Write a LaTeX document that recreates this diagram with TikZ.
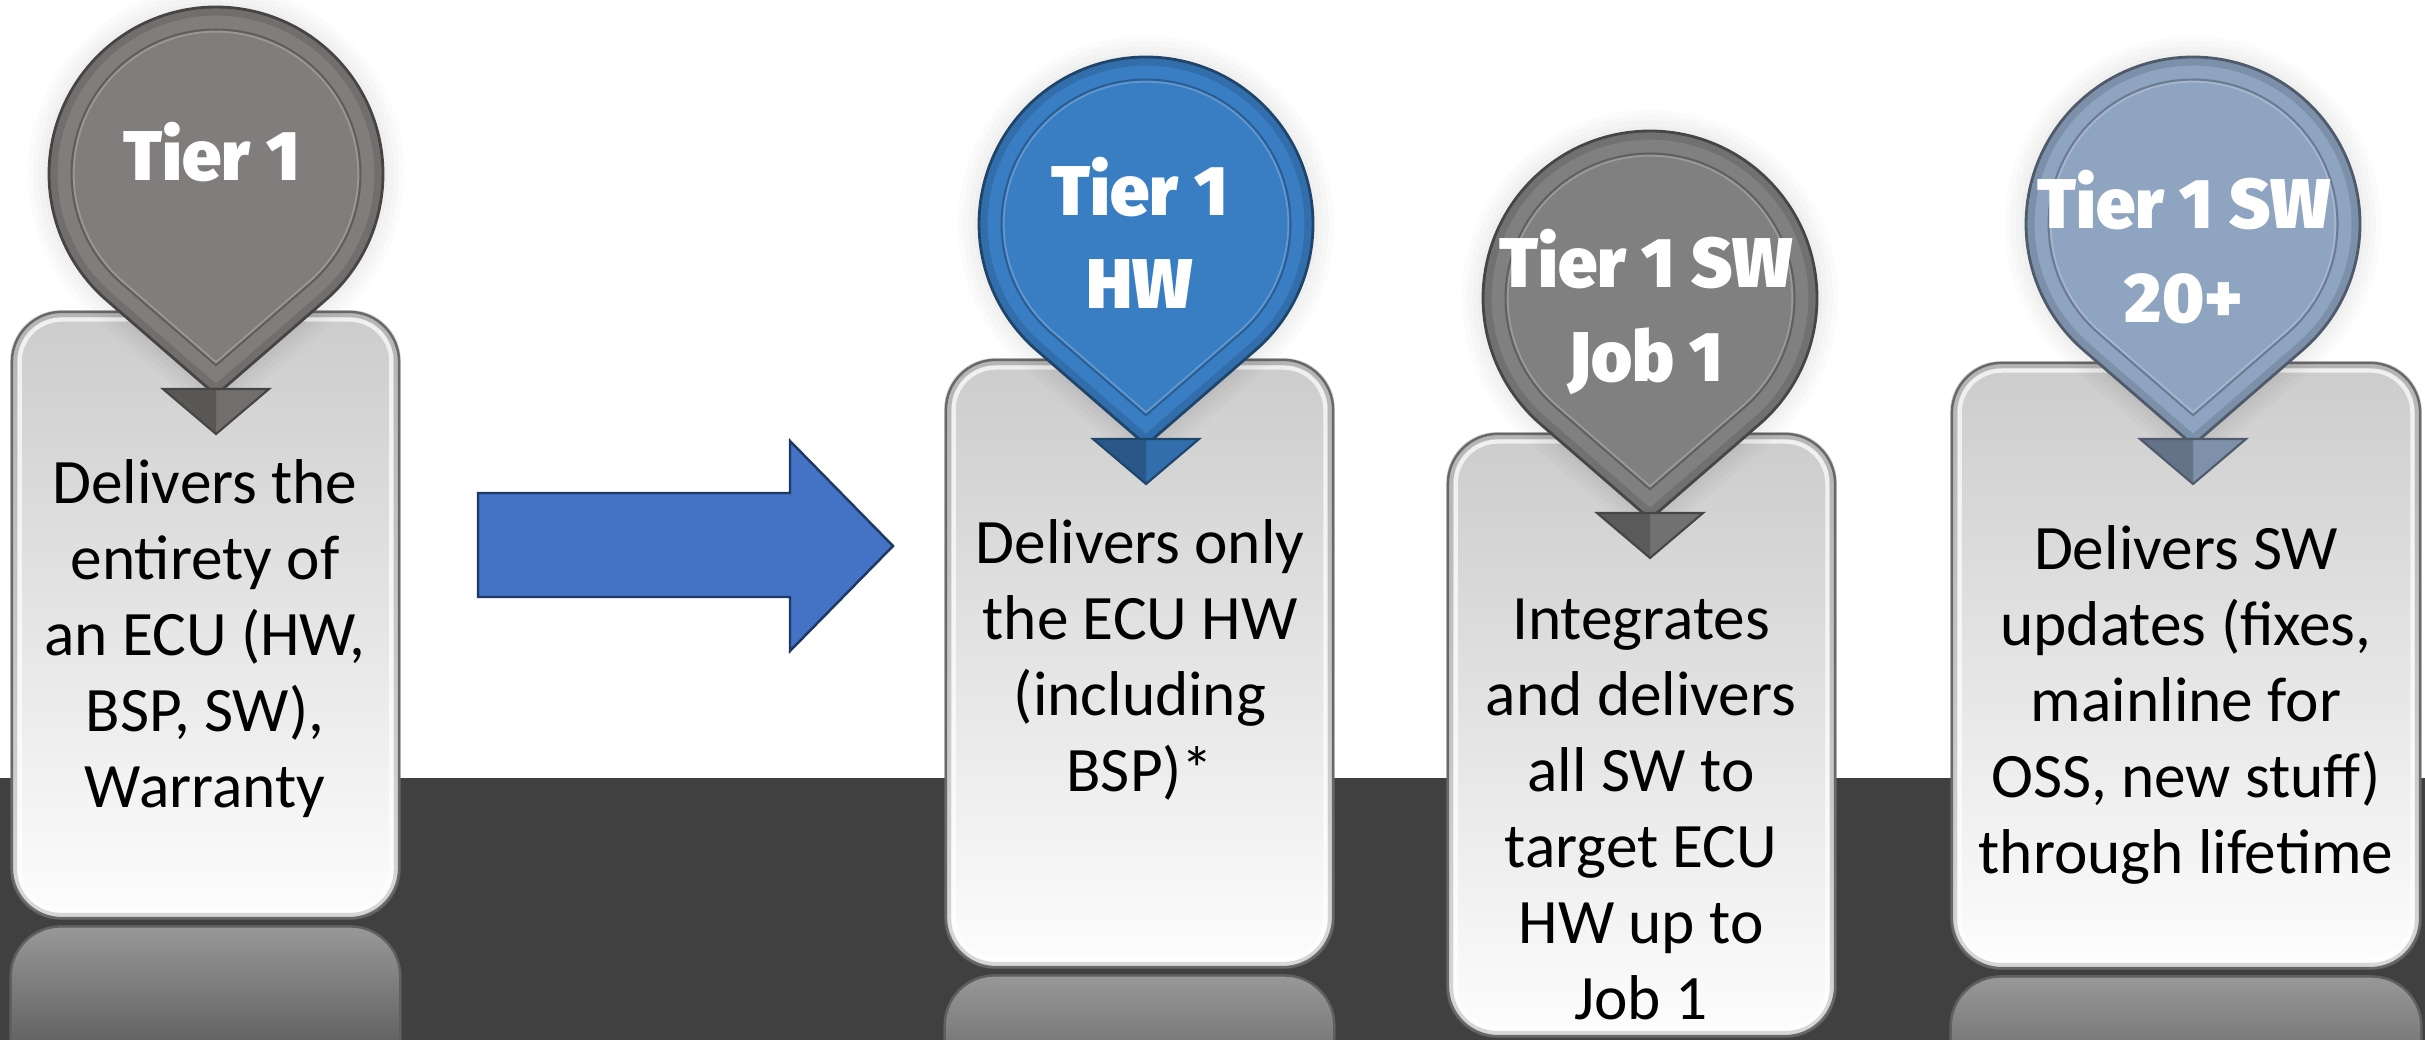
\documentclass[tikz,border=0pt]{standalone}
\usepackage{fontspec}
\setmainfont{Carlito}
\newfontfamily\tierfont{Fira Sans Black}
\usetikzlibrary{calc}

\definecolor{bandgray}{RGB}{64,64,64}
\definecolor{arrowblue}{RGB}{68,114,196}
\definecolor{arrowedge}{RGB}{31,56,100}
\definecolor{pingrayA}{RGB}{128,125,124}
\definecolor{pingrayB}{RGB}{128,128,128}
\definecolor{pinblue}{RGB}{57,125,195}
\definecolor{pinslate}{RGB}{143,164,193}
\definecolor{boxtop}{RGB}{204,204,204}
\definecolor{boxbot}{RGB}{253,253,253}
\definecolor{boxedge}{RGB}{95,95,95}
\definecolor{reftop}{RGB}{152,152,152}
\definecolor{refbot}{RGB}{60,60,60}

\tikzset{
	tierbox/.style={draw=boxedge, line width=0.7pt, rounded corners=0.5cm,
		top color=boxtop, bottom color=boxbot, inner sep=0pt},
	boxtext/.style={align=center, inner sep=0pt,
		font=\fontsize{18}{21.6}\selectfont},
	tiertext/.style={align=center, text=white, inner sep=0pt,
		font=\tierfont\fontsize{20}{26.5}\selectfont},
	reflect/.style={draw=boxedge, line width=0.7pt, rounded corners=0.5cm,
		top color=reftop, bottom color=refbot},
	bigarrow/.style={fill=arrowblue, draw=arrowedge, line width=0.7pt},
	pinshape/.style={insert path={(0,221) -- (49.1:167)
		arc[start angle=49.1, end angle=-229.1, radius=167] -- cycle}}
}

\begin{document}
\begin{tikzpicture}[x=0.01cm, y=-0.01cm]
	\useasboundingbox (0,0) rectangle (2425,1040);
	\clip (0,0) rectangle (2425,1040);
	
	% Background: white top, dark floor
	\fill[white] (0,0) rectangle (2425,1040);
	\fill[bandgray] (0,778) rectangle (2425,1040);
	
	% Boxes
	\node[tierbox, minimum width=3.87cm, minimum height=6.06cm] (box1) at (205.5,615) {};
	\node[tierbox, minimum width=3.87cm, minimum height=6.07cm] (box2) at (1139.5,663.5) {};
	\node[tierbox, minimum width=3.87cm, minimum height=6.02cm] (box3) at (1641.5,735) {};
	\node[tierbox, minimum width=4.68cm, minimum height=6.05cm] (box4) at (2186,665.5) {};
	
	% Bevel highlight and reflection on the floor
	\foreach \b in {box1,box2,box3,box4} {
		\draw[white, line width=1.2pt, opacity=0.7, rounded corners=0.42cm]
			($(\b.north west)+(9,9)$) rectangle ($(\b.south east)+(-9,-9)$);
		\draw[gray, line width=2pt, opacity=0.3, rounded corners=0.47cm]
			($(\b.north west)+(3,3)$) rectangle ($(\b.south east)+(-3,-3)$);
	}
	\foreach \b in {box1,box2,box4}
		\draw[reflect] ($(\b.south west)+(0,7)$) rectangle ($(\b.south east)+(0,207)$);
	
	% Big arrow between the first box and the others
	\draw[bigarrow] (478,493) -- (790,493) -- (790,441) -- (893,546)
		-- (790,651) -- (790,597) -- (478,597) -- cycle;
	
	% Pins on top of the boxes
	\foreach \cx/\cy/\pcol in {216/174/pingrayA, 1146/224/pinblue,
		1650/298/pingrayB, 2193/224/pinslate} {
		\begin{scope}[shift={(\cx,\cy)}]
			\foreach \w in {3,6,9,12}
				\draw[pinshape, black, line width=\w pt, opacity=0.015];
			\fill[\pcol, pinshape];
			\draw[\pcol!80!black, line width=2.5pt, opacity=0.6, scale=0.975, pinshape];
			\draw[\pcol!55!black, line width=0.8pt, pinshape];
			\draw[\pcol!75!black, line width=0.6pt, scale=0.865, pinshape];
			\draw[\pcol!70!white, line width=0.5pt, opacity=0.7, scale=0.852, pinshape];
			% arrow head at the tip
			\fill[\pcol!88!black] (-53,215) -- (53,215) -- (0,260) -- cycle;
			\fill[\pcol!70!black] (-53,215) -- (0,215) -- (0,260) -- cycle;
			\draw[\pcol!55!black, line width=0.6pt] (-53,215) -- (53,215) -- (0,260) -- cycle;
		\end{scope}
	}
	
	% Pin labels
	\node[tiertext] (tier1) at (212,152) {Tier 1};
	\node[tiertext] (tier2) at (1140,233) {Tier 1\\HW};
	\node[tiertext] (tier3) at (1646,312) {Tier 1 SW\\Job 1};
	\node[tiertext] (tier4) at (2184,247) {Tier 1 SW\\20+};
	
	% Box texts
	\node[boxtext] (txt1) at (205,639) {Delivers the\\entirety of\\an ECU (HW,\\BSP, SW),\\Warranty};
	\node[boxtext] (txt2) at (1140,660) {Delivers only\\the ECU HW\\(including\\BSP)*};
	\node[boxtext] (txt3) at (1641,809) {Integrates\\and delivers\\all SW to\\target ECU\\HW up to\\Job 1};
	\node[boxtext] (txt4) at (2186,705) {Delivers SW\\updates (fixes,\\mainline for\\OSS, new stuff)\\through lifetime};
\end{tikzpicture}
\end{document}
